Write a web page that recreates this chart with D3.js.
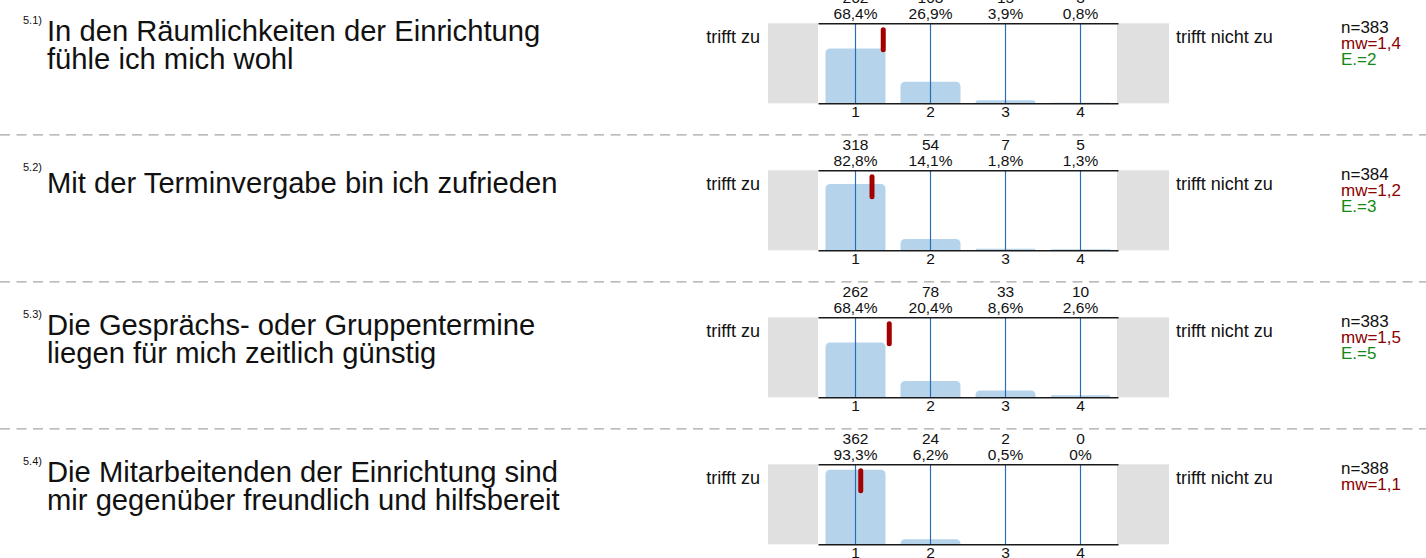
<!DOCTYPE html>
<html><head><meta charset="utf-8">
<script src="https://cdn.jsdelivr.net/npm/d3@7"></script>
<style>
html,body{margin:0;padding:0;background:#fff;}
svg{display:block;font-family:"Liberation Sans",Arial,sans-serif;}
</style></head>
<body><svg id="c" width="1426" height="558"></svg>
<script>
const itemNumbers = ["5.1)", "5.2)", "5.3)", "5.4)"];
const titles = [
  ["In den Räumlichkeiten der Einrichtung", "fühle ich mich wohl"],
  ["Mit der Terminvergabe bin ich zufrieden"],
  ["Die Gesprächs- oder Gruppentermine", "liegen für mich zeitlich günstig"],
  ["Die Mitarbeitenden der Einrichtung sind", "mir gegenüber freundlich und hilfsbereit"]
];
const categories = ["1", "2", "3", "4"];
const counts = [[262, 103, 15, 3], [318, 54, 7, 5], [262, 78, 33, 10], [362, 24, 2, 0]];
const percents = [[68.4, 26.9, 3.9, 0.8], [82.8, 14.1, 1.8, 1.3], [68.4, 20.4, 8.6, 2.6], [93.3, 6.2, 0.5, 0]];
const nValues = [383, 384, 383, 388];
const meanValues = [1.37, 1.22, 1.45, 1.07];
const mwLabels = ["1,4", "1,2", "1,5", "1,1"];
const eValues = [2, 3, 5, null];
const leftLabel = "trifft zu";
const rightLabel = "trifft nicht zu";

const svg = d3.select("#c");
const W = 1426;
const plotL = 818, plotR = 1118, plotH = 80, sideW = 50;
const rowTop = d3.scaleLinear().domain([0, 1]).range([23.3, 170.3]);

const x = d3.scaleBand().domain(categories).range([plotL, plotR]).paddingInner(0.2).paddingOuter(0.1);
const xMean = d3.scaleLinear().domain([1, 4]).range([x("1") + x.bandwidth() / 2, x("4") + x.bandwidth() / 2]);
const y = d3.scaleLinear().domain([0, 100]).range([plotH, 0]);
const fmtPct = v => String(v).replace(".", ",") + "%";

function barPath(x0, w, yTop, yBot, r) {
  const h = yBot - yTop;
  if (h <= 0) return "";
  const rr = Math.min(r, h, w / 2);
  return `M${x0},${yBot}V${yTop + rr}Q${x0},${yTop} ${x0 + rr},${yTop}H${x0 + w - rr}Q${x0 + w},${yTop} ${x0 + w},${yTop + rr}V${yBot}Z`;
}

itemNumbers.forEach((num, i) => {
  const top = rowTop(i);
  const g = svg.append("g").attr("transform", `translate(0,${top})`);

  if (i > 0) {
    svg.append("line").attr("x1", 0).attr("x2", W).attr("y1", top - 35.5).attr("y2", top - 35.5)
      .attr("stroke", "#a6a6a6").attr("stroke-width", 1.3).attr("stroke-dasharray", "10,6.5");
  }

  // item number
  g.append("text").attr("x", 23).attr("y", 0.5).attr("font-size", 11).attr("fill", "#111").text(num);
  // title
  const lines = titles[i];
  const offs = lines.length === 1 ? [22.5] : [17.5, 45.5];
  lines.forEach((t, k) => {
    g.append("text").attr("x", 47).attr("y", offs[k]).attr("font-size", 29.2).attr("fill", "#111").text(t);
  });

  // side boxes
  g.append("rect").attr("x", plotL - sideW).attr("y", 0).attr("width", sideW).attr("height", plotH).attr("fill", "#e0e0e0");
  g.append("rect").attr("x", plotR - 1).attr("y", 0).attr("width", sideW + 2).attr("height", plotH).attr("fill", "#e0e0e0");

  g.append("text").attr("x", 760).attr("y", 19.5).attr("text-anchor", "end").attr("font-size", 18).attr("fill", "#111").text(leftLabel);
  g.append("text").attr("x", 1176).attr("y", 19.5).attr("font-size", 18).attr("fill", "#111").text(rightLabel);

  // bars
  g.selectAll("path.bar").data(categories).enter().append("path").attr("class", "bar")
    .attr("d", (c, j) => barPath(x(c), x.bandwidth(), y(percents[i][j]), plotH, 5))
    .attr("fill", "#b5d4eb");

  // blue lines
  g.selectAll("line.v").data(categories).enter().append("line").attr("class", "v")
    .attr("x1", c => x(c) + x.bandwidth() / 2).attr("x2", c => x(c) + x.bandwidth() / 2)
    .attr("y1", 0).attr("y2", plotH).attr("stroke", "#2b6db4").attr("stroke-width", 1.2);

  // axes
  const axTop = g.append("g").call(d3.axisTop(x).tickValues([]).tickSizeOuter(0));
  axTop.select(".domain").attr("stroke", "#1a1a1a").attr("stroke-width", 1.6);
  const axBot = g.append("g").attr("transform", `translate(0,${plotH})`)
    .call(d3.axisBottom(x).tickSize(0).tickSizeOuter(0).tickPadding(3));
  axBot.select(".domain").attr("stroke", "#1a1a1a").attr("stroke-width", 1.6);
  axBot.selectAll("text").attr("font-size", 15.5).attr("font-family", "Liberation Sans, Arial, sans-serif").attr("fill", "#111");

  // count/pct labels
  g.selectAll("text.cnt").data(categories).enter().append("text").attr("class", "cnt")
    .attr("x", c => x(c) + x.bandwidth() / 2).attr("y", -20).attr("text-anchor", "middle")
    .attr("font-size", 15.5).attr("fill", "#111").text((c, j) => counts[i][j]);
  g.selectAll("text.pct").data(categories).enter().append("text").attr("class", "pct")
    .attr("x", c => x(c) + x.bandwidth() / 2).attr("y", -4).attr("text-anchor", "middle")
    .attr("font-size", 15.5).attr("fill", "#111").text((c, j) => fmtPct(percents[i][j]));

  // mean marker
  g.append("line").attr("x1", xMean(meanValues[i])).attr("x2", xMean(meanValues[i]))
    .attr("y1", 6.5).attr("y2", 26.5).attr("stroke", "#a30000").attr("stroke-width", 5).attr("stroke-linecap", "round");

  // stats
  g.append("text").attr("x", 1341).attr("y", 10).attr("font-size", 17).attr("fill", "#111").text("n=" + nValues[i]);
  g.append("text").attr("x", 1341).attr("y", 26).attr("font-size", 17).attr("fill", "#8b0000").text("mw=" + mwLabels[i]);
  if (eValues[i] !== null) {
    g.append("text").attr("x", 1341).attr("y", 42).attr("font-size", 17).attr("fill", "#138a13").text("E.=" + eValues[i]);
  }
});
</script></body></html>
